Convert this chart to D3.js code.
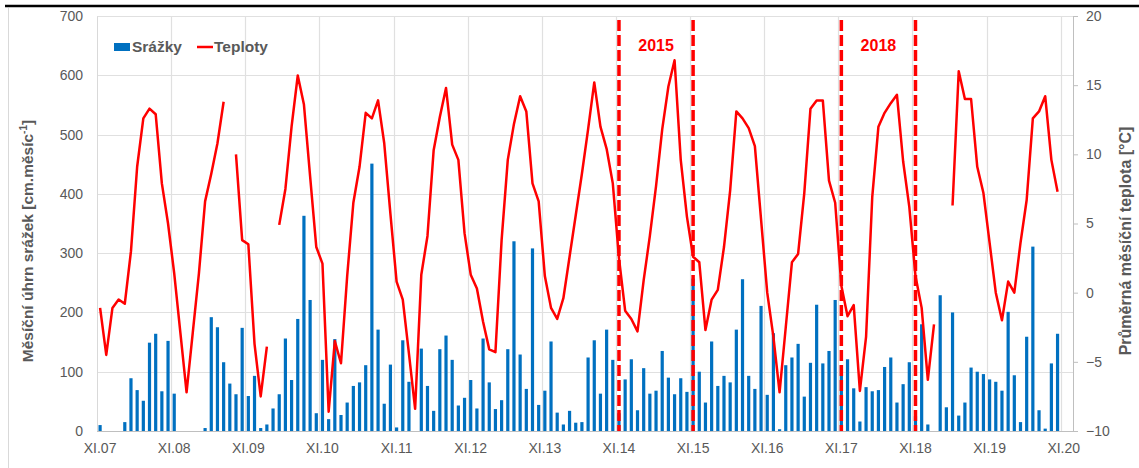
<!DOCTYPE html>
<html>
<head>
<meta charset="utf-8">
<script src="https://cdn.jsdelivr.net/npm/d3@7"></script>
<style>
  body { margin: 0; background: #fff; }
  svg text { font-family: "Liberation Sans", Arial, sans-serif; }
</style>
</head>
<body>
<div id="chart"></div>
<script>
// Monthly precipitation, XI.07 .. X.20
const precip = [
  10, 0, 0, 0, 15, 89, 69, 51, 149, 164, 67, 152,
  63, 0, 0, 0, 0, 5, 192, 175, 116, 80, 62, 174,
  59, 93, 5, 11, 38, 62, 156, 86, 189, 363, 221, 30,
  120, 20, 155, 27, 48, 76, 82, 111, 451, 171, 46, 112,
  6, 153, 83, 0, 139, 76, 34, 138, 161, 120, 43, 56,
  86, 38, 156, 82, 37, 52, 138, 320, 129, 71, 308, 44,
  68, 151, 31, 11, 34, 14, 15, 124, 153, 63, 171, 120,
  30, 87, 121, 35, 106, 63, 68, 135, 90, 62, 89, 66,
  257, 100, 48, 151, 76, 93, 82, 171, 256, 93, 71, 211,
  61, 165, 3, 111, 124, 147, 58, 115, 213, 114, 135, 221,
  111, 121, 72, 16, 74, 67, 69, 108, 124, 48, 79, 116,
  25, 180, 11, 0, 229, 40, 200, 26, 48, 107, 100, 96,
  87, 83, 68, 201, 94, 15, 159, 311, 35, 4, 114, 164
];

// Monthly mean temperature (null = missing month)
const temp = [
  -1.1, -4.5, -1.1, -0.5, -0.8, 3.0, 9.1, 12.6, 13.3, 12.9, 7.9, 5.0,
  1.4, -2.9, -7.2, -2.9, 1.4, 6.6, 8.6, 10.8, 13.8, null, 10.0, 3.8,
  3.5, -3.7, -7.5, -3.9, null, 4.9, 7.5, 12.0, 15.7, 13.6, 8.4, 3.3,
  2.1, -8.6, -3.5, -5.1, 1.2, 6.5, 9.1, 13.0, 12.6, 13.9, 10.8, 5.7,
  0.8, -0.5, -4.4, -8.4, 1.3, 4.1, 10.3, 12.7, 14.8, 10.7, 9.6, 4.3,
  1.3, 0.3, -2.1, -4.1, -4.3, 3.8, 9.6, 12.2, 14.2, 13.1, 7.9, 6.6,
  1.2, -1.1, -1.9, -0.4, 2.6, 5.6, 8.6, 11.8, 15.2, 12.0, 10.4, 7.9,
  2.5, -1.3, -1.9, -2.8, 0.9, 4.1, 7.7, 11.8, 14.9, 16.8, 9.6, 5.5,
  2.6, 2.2, -2.7, -0.5, 0.2, 3.3, 7.4, 13.1, 12.6, 11.9, 10.6, 5.3,
  0.0, -3.2, -7.2, -2.5, 2.2, 2.8, 7.2, 13.3, 13.9, 13.9, 8.1, 6.5,
  0.5, -1.7, -0.9, -7.1, -3.2, 6.9, 12.0, 13.0, 13.7, 14.3, 9.5, 6.2,
  1.2, -1.1, -6.3, -2.3, null, null, 6.3, 16.0, 14.0, 14.0, 9.1, 7.2,
  3.6, 0.0, -2.0, 0.8, 0.0, 3.6, 6.7, 12.6, 13.1, 14.2, 9.6, 7.3
];

const yearLabels = ["XI.07", "XI.08", "XI.09", "XI.10", "XI.11", "XI.12", "XI.13",
  "XI.14", "XI.15", "XI.16", "XI.17", "XI.18", "XI.19", "XI.20"];
const markers = ["XI.14", "XI.15", "XI.17", "XI.18"];
const periods = [["2015", "XI.14", "XI.15"], ["2018", "XI.17", "XI.18"]];

const w = 1139;
const h = 468;
const plotL = 97, plotR = 1073, plotT = 16, plotB = 431;
const gray = "#595959";

const nMonths = (yearLabels.length - 1) * 12 + 2;
const x = d3.scaleBand().domain(d3.range(nMonths)).range([plotL, plotR]);
const cx = i => x(i) + x.bandwidth() / 2;
const yL = d3.scaleLinear().domain([0, 700]).range([plotB, plotT]);
const yR = d3.scaleLinear().domain([-10, 20]).range([plotB, plotT]);
const monthOf = lbl => yearLabels.indexOf(lbl) * 12;

const svg = d3.select("#chart").append("svg")
  .attr("width", w).attr("height", h);

// frame bits
svg.append("line").attr("x1", 5).attr("x2", w).attr("y1", 6).attr("y2", 6)
  .attr("stroke", "#000").attr("stroke-width", 2.5);
svg.append("line").attr("x1", 8.5).attr("x2", 8.5).attr("y1", 8).attr("y2", h)
  .attr("stroke", "#d9d9d9");

// gridlines
svg.append("g").selectAll("line").data(yL.ticks(7)).join("line")
  .attr("x1", plotL).attr("x2", plotR)
  .attr("y1", d => Math.round(yL(d)) + 0.5).attr("y2", d => Math.round(yL(d)) + 0.5)
  .attr("stroke", "#e0e0e0").attr("stroke-width", 1.2);
svg.append("g").selectAll("line").data(d3.range(1, yearLabels.length)).join("line")
  .attr("x1", d => Math.round(x(d * 12)) + 0.5).attr("x2", d => Math.round(x(d * 12)) + 0.5)
  .attr("y1", plotT).attr("y2", plotB)
  .attr("stroke", "#e0e0e0").attr("stroke-width", 1.2);

// left axis
const axL = svg.append("g").attr("transform", `translate(${plotL},0)`)
  .call(d3.axisLeft(yL).ticks(7).tickSize(0).tickPadding(14));
axL.select(".domain").attr("stroke", "#d9d9d9");
axL.selectAll("text").attr("fill", gray).style("font-size", "14px");

// right axis
const axR = svg.append("g").attr("transform", `translate(${plotR},0)`)
  .call(d3.axisRight(yR).ticks(6).tickSize(5).tickPadding(8));
axR.select(".domain").attr("stroke", "#bfbfbf");
axR.selectAll(".tick line").attr("stroke", "#bfbfbf");
axR.selectAll("text").attr("fill", gray).style("font-size", "14px");

// bottom axis
svg.append("line").attr("x1", plotL).attr("x2", plotR)
  .attr("y1", plotB + 0.5).attr("y2", plotB + 0.5).attr("stroke", "#bfbfbf");
svg.append("g").selectAll("text").data(yearLabels).join("text")
  .attr("x", (d, i) => cx(i * 12))
  .attr("y", 453)
  .attr("text-anchor", "middle")
  .attr("fill", gray).style("font-size", "14px")
  .text(d => d);

// bars
svg.append("g").selectAll("rect").data(precip).join("rect")
  .attr("x", (d, i) => cx(i) - 1.6)
  .attr("width", 3.2)
  .attr("y", d => yL(d))
  .attr("height", d => plotB - yL(d))
  .attr("fill", "#0070c0");

// period markers
svg.append("g").selectAll("line").data(markers).join("line")
  .attr("x1", d => cx(monthOf(d))).attr("x2", d => cx(monthOf(d)))
  .attr("y1", 20).attr("y2", plotB)
  .attr("stroke", "#ff0000").attr("stroke-width", 3.5)
  .attr("stroke-dasharray", "11,4");
svg.append("g").selectAll("text").data(periods).join("text")
  .attr("x", d => (cx(monthOf(d[1])) + cx(monthOf(d[2]))) / 2)
  .attr("y", 51)
  .attr("text-anchor", "middle")
  .attr("fill", "#ff0000").style("font-size", "16px").style("font-weight", "bold")
  .text(d => d[0]);

// temperature line
const line = d3.line()
  .defined(d => d != null)
  .x((d, i) => cx(i))
  .y(d => yR(d));
svg.append("path").datum(temp)
  .attr("d", line)
  .attr("fill", "none")
  .attr("stroke", "#ff0000")
  .attr("stroke-width", 2.5)
  .attr("stroke-linejoin", "round");

// axis titles
const tL = svg.append("text")
  .attr("transform", "translate(33,241) rotate(-90)")
  .attr("text-anchor", "middle")
  .attr("fill", gray).style("font-size", "15.5px").style("font-weight", "bold");
tL.append("tspan").text("Měsíční úhrn srážek [cm.měsíc");
tL.append("tspan").attr("dy", -6).style("font-size", "10px").text("-1");
tL.append("tspan").attr("dy", 6).text("]");
svg.append("text")
  .attr("transform", "translate(1131,241) rotate(-90)")
  .attr("text-anchor", "middle")
  .attr("fill", gray).style("font-size", "16px").style("font-weight", "bold")
  .text("Průměrná měsíční teplota [°C]");

// legend
const lg = svg.append("g");
lg.append("rect").attr("x", 114).attr("y", 43).attr("width", 16).attr("height", 8)
  .attr("fill", "#0070c0");
lg.append("text").attr("x", 132).attr("y", 52)
  .attr("fill", gray).style("font-size", "15.5px").style("font-weight", "bold")
  .text("Srážky");
lg.append("line").attr("x1", 197).attr("x2", 213).attr("y1", 47).attr("y2", 47)
  .attr("stroke", "#ff0000").attr("stroke-width", 2.5);
lg.append("text").attr("x", 214).attr("y", 52)
  .attr("fill", gray).style("font-size", "15.5px").style("font-weight", "bold")
  .text("Teploty");
</script>
</body>
</html>
